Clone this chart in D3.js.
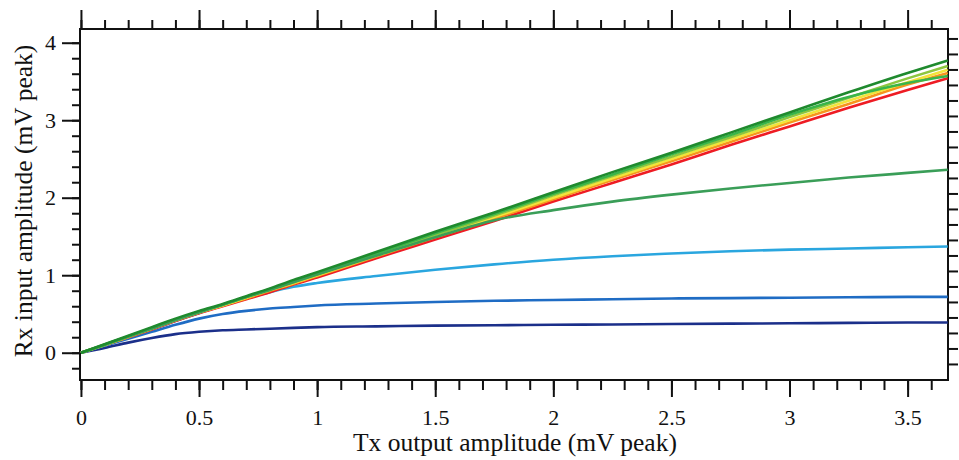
<!DOCTYPE html>
<html>
<head>
<meta charset="utf-8">
<script src="https://cdn.jsdelivr.net/npm/d3@7"></script>
<style>
  body { margin: 0; background: #fff; }
</style>
</head>
<body>
<div id="my_dataviz"></div>
<script>
// Tx amplitude sample points (mV peak)
var txValues = [0, 0.1, 0.2, 0.3, 0.4, 0.5, 0.6, 0.7, 0.8, 0.9, 1.0, 1.25, 1.5, 1.75, 2.0, 2.25, 2.5, 2.75, 3.0, 3.25, 3.5, 3.67];

// Rx amplitude for each curve (mV peak)
var rxNavy = [0, 0.06, 0.13, 0.19, 0.24, 0.27, 0.29, 0.30, 0.31, 0.32, 0.33, 0.34, 0.35, 0.355, 0.36, 0.365, 0.37, 0.375, 0.38, 0.385, 0.39, 0.39];
var rxBlue = [0, 0.09, 0.18, 0.27, 0.36, 0.44, 0.50, 0.54, 0.57, 0.59, 0.61, 0.635, 0.655, 0.67, 0.68, 0.69, 0.70, 0.705, 0.71, 0.715, 0.72, 0.72];
var rxCyan = [0, 0.1, 0.2, 0.3, 0.41, 0.51, 0.61, 0.70, 0.78, 0.85, 0.90, 0.99, 1.07, 1.14, 1.20, 1.245, 1.28, 1.31, 1.33, 1.345, 1.36, 1.37];
var rxTeal = [0, 0.105, 0.21, 0.31, 0.42, 0.52, 0.62, 0.72, 0.81, 0.91, 1.01, 1.25, 1.49, 1.71, 1.84, 1.95, 2.04, 2.12, 2.19, 2.26, 2.32, 2.36];
var rxRed = [0, 0.1, 0.2, 0.3, 0.41, 0.51, 0.6, 0.69, 0.78, 0.88, 0.97, 1.22, 1.46, 1.70, 1.95, 2.19, 2.43, 2.68, 2.92, 3.16, 3.39, 3.54];
var rxOrange = [0, 0.1, 0.2, 0.31, 0.42, 0.52, 0.61, 0.7, 0.8, 0.89, 0.99, 1.24, 1.49, 1.73, 1.98, 2.23, 2.47, 2.72, 2.97, 3.21, 3.46, 3.61];
var rxYellow = [0, 0.1, 0.21, 0.31, 0.42, 0.52, 0.61, 0.71, 0.81, 0.9, 1.0, 1.25, 1.50, 1.75, 2.0, 2.25, 2.50, 2.75, 3.0, 3.25, 3.49, 3.65];
var rxLightGreen = [0, 0.1, 0.21, 0.32, 0.43, 0.53, 0.62, 0.72, 0.82, 0.91, 1.01, 1.27, 1.52, 1.77, 2.03, 2.28, 2.53, 2.78, 3.04, 3.29, 3.54, 3.70];
var rxGreen = [0, 0.1, 0.21, 0.32, 0.43, 0.53, 0.62, 0.72, 0.82, 0.92, 1.02, 1.28, 1.54, 1.79, 2.05, 2.30, 2.56, 2.81, 3.07, 3.30, 3.48, 3.57];
var rxDarkGreen = [0, 0.11, 0.22, 0.33, 0.44, 0.54, 0.63, 0.73, 0.83, 0.94, 1.04, 1.30, 1.56, 1.81, 2.07, 2.33, 2.58, 2.84, 3.10, 3.36, 3.61, 3.77];

// drawing order and colours
var curves = [rxNavy, rxBlue, rxCyan, rxRed, rxOrange, rxYellow, rxLightGreen, rxGreen, rxTeal, rxDarkGreen];
var curveColors = ["#1b2f8a", "#1f6cc4", "#2aa6df", "#ee1c24", "#f7941d", "#f2e43a", "#8dc63f", "#39b54a", "#3a9e58", "#1f8a2e"];

// tick labels
var xMajor = [0, 0.5, 1, 1.5, 2, 2.5, 3, 3.5];
var yMajor = [0, 1, 2, 3, 4];

var serif = "'Liberation Serif', 'Times New Roman', 'DejaVu Serif', serif";

var margin = { top: 29, right: 11, bottom: 80, left: 80 },
  width = 959 - margin.left - margin.right,
  height = 460 - margin.top - margin.bottom;

var svg = d3.select("#my_dataviz")
  .append("svg")
  .attr("width", 959)
  .attr("height", 460)
  .append("g")
  .attr("transform", "translate(" + margin.left + "," + margin.top + ")");

var x = d3.scaleLinear().domain([-0.004, 3.671]).range([0, width]);
var y = d3.scaleLinear().domain([-0.352, 4.177]).range([height, 0]);
// right-hand ticks sit slightly off the left ones in the original
var yRight = d3.scaleLinear().domain([-0.352 - 0.055, 4.177 - 0.055]).range([height, 0]);

var xMinor = d3.range(0, 3.65, 0.1);
var yMinor = d3.range(-0.2, 4.01, 0.2);
var yRightTicks = d3.range(-0.2, 4.1, 0.2);

function styleAxis(g) {
  g.select(".domain").remove();
  g.selectAll("line").attr("stroke", "#111").attr("stroke-width", 2);
  g.attr("font-family", serif).attr("font-size", 22);
}

// minor ticks
svg.append("g").attr("transform", "translate(0," + height + ")")
  .call(d3.axisBottom(x).tickValues(xMinor).tickSize(10).tickFormat(""))
  .call(styleAxis);
svg.append("g")
  .call(d3.axisTop(x).tickValues(xMinor).tickSize(9).tickFormat(""))
  .call(styleAxis);
svg.append("g")
  .call(d3.axisLeft(y).tickValues(yMinor).tickSize(8).tickFormat(""))
  .call(styleAxis);
svg.append("g").attr("transform", "translate(" + width + ",0)")
  .call(d3.axisRight(yRight).tickValues(yRightTicks).tickSize(10).tickFormat(""))
  .call(styleAxis);

// major ticks with labels
svg.append("g").attr("transform", "translate(0," + height + ")")
  .call(d3.axisBottom(x).tickValues(xMajor).tickSize(17).tickFormat(d3.format("")))
  .call(styleAxis)
  .selectAll("text")
  .attr("y", 45).attr("dy", 0);
svg.append("g")
  .call(d3.axisTop(x).tickValues(xMajor).tickSize(19).tickFormat(""))
  .call(styleAxis);
svg.append("g")
  .call(d3.axisLeft(y).tickValues(yMajor).tickSize(18).tickPadding(6).tickFormat(d3.format("d")))
  .call(styleAxis);

svg.selectAll(".tick text").style("font-family", serif).style("fill", "#111");

// frame
svg.append("rect")
  .attr("width", width)
  .attr("height", height)
  .attr("fill", "none")
  .attr("stroke", "#111")
  .attr("stroke-width", 2);

// curves
var line = d3.line()
  .x(function (d, i) { return x(txValues[i]); })
  .y(function (d) { return y(d); })
  .curve(d3.curveMonotoneX);

svg.selectAll(".curve")
  .data(curves)
  .enter()
  .append("path")
  .attr("class", "curve")
  .attr("fill", "none")
  .attr("stroke", function (d, i) { return curveColors[i]; })
  .attr("stroke-width", 2.6)
  .attr("stroke-linejoin", "round")
  .attr("d", line);

// axis titles
svg.append("text")
  .attr("x", 515 - margin.left)
  .attr("y", 451 - margin.top)
  .attr("text-anchor", "middle")
  .style("font-family", serif)
  .style("font-size", "25.5px")
  .style("fill", "#111")
  .text("Tx output amplitude (mV peak)");

svg.append("text")
  .attr("transform", "translate(" + (32 - margin.left) + "," + (201 - margin.top) + ") rotate(-90)")
  .attr("text-anchor", "middle")
  .style("font-family", serif)
  .style("font-size", "25.5px")
  .style("fill", "#111")
  .text("Rx input amplitude (mV peak)");
</script>
</body>
</html>
